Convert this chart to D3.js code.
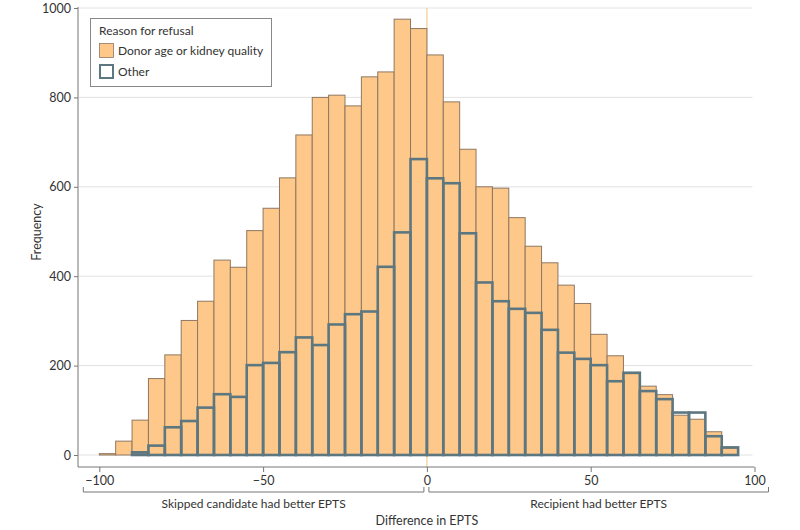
<!DOCTYPE html>
<html>
<head>
<meta charset="utf-8">
<script src="https://cdn.jsdelivr.net/npm/d3@7"></script>
<style>
  html, body { margin: 0; padding: 0; background: #fff; }
  svg { display: block; font-family: Lato, "Noto Sans", sans-serif; }
</style>
</head>
<body>
<svg id="chart" width="800" height="530"></svg>
<script>
// ---- Data ----
const binStarts = [-100,-95,-90,-85,-80,-75,-70,-65,-60,-55,-50,-45,-40,-35,-30,-25,-20,-15,-10,-5,
                   0,5,10,15,20,25,30,35,40,45,50,55,60,65,70,75,80,85,90];
const binWidth = 5;
const donorAgeQuality = [3,31,78,171,224,301,344,436,420,502,552,620,716,800,805,781,846,857,975,954,
                         895,790,684,600,597,531,467,430,380,339,270,222,182,154,135,89,80,52,15];
const otherReason = [0,0,6,21,62,76,106,136,130,201,206,230,263,246,292,315,321,421,498,662,
                     619,608,496,386,344,327,318,280,229,215,201,165,184,143,125,95,95,42,17];
const xTicks = [-100,-50,0,50,100];
const yTicks = [0,200,400,600,800,1000];
const seriesNames = ["Donor age or kidney quality", "Other"];
const legendTitle = "Reason for refusal";
const bracketLabels = ["Skipped candidate had better EPTS", "Recipient had better EPTS"];
const xTitle = "Difference in EPTS";
const yTitle = "Frequency";

// ---- Layout ----
const svg = d3.select("#chart");
const x = d3.scaleLinear().domain([-100, 100]).range([99.3, 754.5]);
const y = d3.scaleLinear().domain([0, 1000]).range([455, 8]);
const axisX0 = 78, axisY = 467;
const textColor = "#333";
const orangeFill = "#fdc889", orangeStroke = "#8f7862";
const slate = "#5d7780";

// gridlines
svg.append("g").selectAll("line").data(yTicks).join("line")
  .attr("x1", axisX0 + 1).attr("x2", x(100) - 2)
  .attr("y1", d => y(d)).attr("y2", d => y(d))
  .attr("stroke", "#e2e2e2").attr("stroke-width", 1);

// zero reference line
svg.append("line")
  .attr("x1", x(0)).attr("x2", x(0))
  .attr("y1", y(1000)).attr("y2", axisY)
  .attr("stroke", "#f6c07a").attr("stroke-width", 1);

// orange bars
const bins = binStarts.map((s, i) => ({ s, a: donorAgeQuality[i], o: otherReason[i] }));
svg.append("g").selectAll("rect").data(bins).join("rect")
  .attr("x", d => x(d.s)).attr("width", d => x(d.s + binWidth) - x(d.s))
  .attr("y", d => y(d.a)).attr("height", d => y(0) - y(d.a))
  .attr("fill", orangeFill).attr("stroke", orangeStroke).attr("stroke-width", 1);

// other bars (outline)
svg.append("g").selectAll("rect").data(bins.filter(d => d.o > 0)).join("rect")
  .attr("x", d => x(d.s)).attr("width", d => x(d.s + binWidth) - x(d.s))
  .attr("y", d => y(d.o)).attr("height", d => y(0) - y(d.o))
  .attr("fill", "none").attr("stroke", slate).attr("stroke-width", 2.6);

// y axis
svg.append("line").attr("x1", axisX0).attr("x2", axisX0)
  .attr("y1", y(1000) - 1).attr("y2", axisY).attr("stroke", "#777").attr("stroke-width", 1);
const yAxis = svg.append("g").attr("transform", `translate(${axisX0},0)`)
  .call(d3.axisLeft(y).tickValues(yTicks).tickSize(4).tickPadding(3).tickFormat(d3.format("d")));
yAxis.select(".domain").remove();
yAxis.selectAll(".tick line").attr("stroke", "#777");
yAxis.selectAll(".tick text").attr("fill", textColor).style("font-size", "12.5px").style("font-family", "Lato, sans-serif");

// x axis
svg.append("line").attr("x1", axisX0).attr("x2", x(100))
  .attr("y1", axisY).attr("y2", axisY).attr("stroke", "#777").attr("stroke-width", 1);
const xAxis = svg.append("g").attr("transform", `translate(0,${axisY})`)
  .call(d3.axisBottom(x).tickValues(xTicks).tickSize(5).tickPadding(4).tickFormat(d3.format("d")));
xAxis.select(".domain").remove();
xAxis.selectAll(".tick line").attr("stroke", "#777");
xAxis.selectAll(".tick text").attr("fill", textColor).style("font-size", "12.5px").style("font-family", "Lato, sans-serif");

// brackets
const by = 492, bh = 5;
const brackets = [
  { x1: x(-100) - 16, x2: x(0) - 3, label: bracketLabels[0] },
  { x1: x(0) + 2, x2: x(100) + 14, label: bracketLabels[1] }
];
const bg = svg.append("g");
brackets.forEach(b => {
  bg.append("path")
    .attr("d", `M${b.x1},${by - bh}V${by}H${b.x2}V${by - bh}`)
    .attr("fill", "none").attr("stroke", "#777").attr("stroke-width", 1);
  bg.append("text").attr("x", (b.x1 + b.x2) / 2).attr("y", by + 16)
    .attr("text-anchor", "middle").attr("fill", textColor).style("font-size", "12px")
    .text(b.label);
});

// axis titles
svg.append("text").attr("x", x(0)).attr("y", 525).attr("text-anchor", "middle")
  .attr("fill", textColor).style("font-size", "12.5px").text(xTitle);
svg.append("text").attr("transform", `translate(41,232) rotate(-90)`)
  .attr("text-anchor", "middle").attr("fill", textColor).style("font-size", "12.5px").text(yTitle);

// legend
const lg = svg.append("g");
lg.append("rect").attr("x", 90.5).attr("y", 18.5).attr("width", 181).attr("height", 68)
  .attr("fill", "#fff").attr("stroke", "#888").attr("stroke-width", 1);
lg.append("text").attr("x", 99).attr("y", 35).attr("fill", textColor).style("font-size", "12px").text(legendTitle);
lg.append("rect").attr("x", 99.5).attr("y", 43.5).attr("width", 14).attr("height", 14)
  .attr("fill", orangeFill).attr("stroke", orangeStroke).attr("stroke-width", 0.8);
lg.append("text").attr("x", 118).attr("y", 54.5).attr("fill", textColor).style("font-size", "12px").text(seriesNames[0]);
lg.append("rect").attr("x", 100).attr("y", 65).attr("width", 13).attr("height", 13)
  .attr("fill", "#fff").attr("stroke", slate).attr("stroke-width", 2);
lg.append("text").attr("x", 118).attr("y", 76).attr("fill", textColor).style("font-size", "12px").text(seriesNames[1]);
</script>
</body>
</html>
